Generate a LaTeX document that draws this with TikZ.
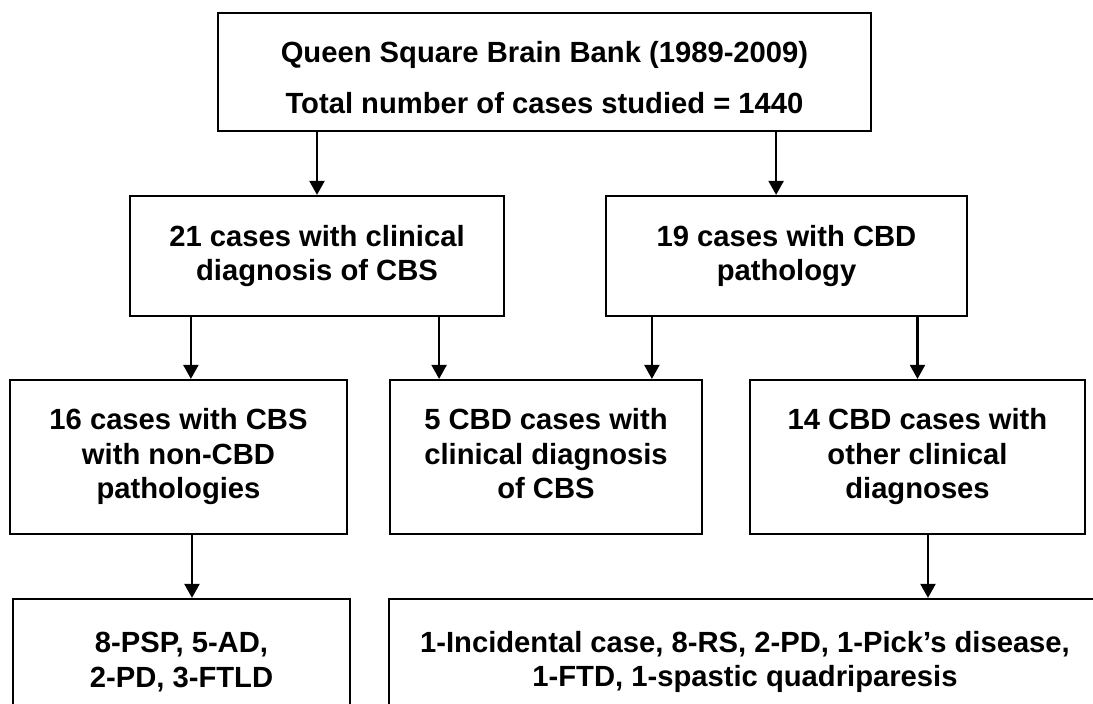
\documentclass[tikz,border=0pt]{standalone}
\usepackage{fontspec}
\setmainfont{Liberation Sans}
\usetikzlibrary{positioning,arrows.meta}

\begin{document}
\begin{tikzpicture}[node distance=184pt, line width=2.2pt, >={Triangle[width=15pt,length=14pt]},
  box/.style={draw, rectangle, inner sep=0pt, align=center, font=\fontsize{29.2}{34.5}\selectfont\bfseries}]
  \clip (-544.5pt,72pt) rectangle (548.5pt,-632pt);

  \node[box, minimum width=653pt, minimum height=118pt] (QS) {\rule{0pt}{38pt}Queen Square Brain Bank (1989-2009)\\[16pt]Total number of cases studied = 1440\vphantom{g}};

  \node[box, minimum width=374pt, minimum height=120pt, below of=QS, xshift=-227.5pt] (CS) {21 cases with clinical\\diagnosis of CBS};
  \node[box, minimum width=361pt, minimum height=120pt, below of=QS, xshift=242pt] (CP) {19 cases with CBD\\pathology};

  \node[box, minimum width=337pt, minimum height=154pt, below of=CS, xshift=-138.5pt, yshift=-17pt] (NC) {16 cases with CBS\\with non-CBD\\pathologies};
  \node[box, minimum width=312pt, minimum height=154pt, below of=CS, xshift=229pt, yshift=-17pt] (CB) {5 CBD cases with\\clinical diagnosis\\of CBS\vphantom{g}};
  \node[box, minimum width=335pt, minimum height=154pt, below of=CP, xshift=131pt, yshift=-17pt] (OC) {14 CBD cases with\\other clinical\\diagnoses};

  \node[box, minimum width=337pt, minimum height=126pt, below of=NC, xshift=3pt, yshift=-21pt] (NL) {8-PSP, 5-AD,\\2-PD, 3-FTLD};
  \node[box, minimum width=712pt, minimum height=126pt, below of=OC, xshift=-172.5pt, yshift=-21pt] (OL) {1-Incidental case, 8-RS, 2-PD, 1-Pick’s disease,\\1-FTD, 1-spastic quadriparesis};

  \draw[->] (CS.north |- QS.south) -- (CS.north);
  \draw[->] ([xshift=-96pt]QS.south east) coordinate (q2) -- (q2 |- CP.north);
  \draw[->] ([xshift=62pt]CS.south west) coordinate (c1) -- (c1 |- NC.north);
  \draw[->] ([xshift=-66pt]CS.south east) coordinate (c2) -- (c2 |- CB.north);
  \draw[->] ([xshift=47pt]CP.south west) coordinate (c3) -- (c3 |- CB.north);
  \draw[->] (OC.north |- CP.south) -- (OC.north);
  \draw[->] ([xshift=13.5pt]NC.south) coordinate (n1) -- (n1 |- NL.north);
  \draw[->] ([xshift=10.5pt]OC.south) coordinate (o1) -- (o1 |- OL.north);
\end{tikzpicture}
\end{document}
